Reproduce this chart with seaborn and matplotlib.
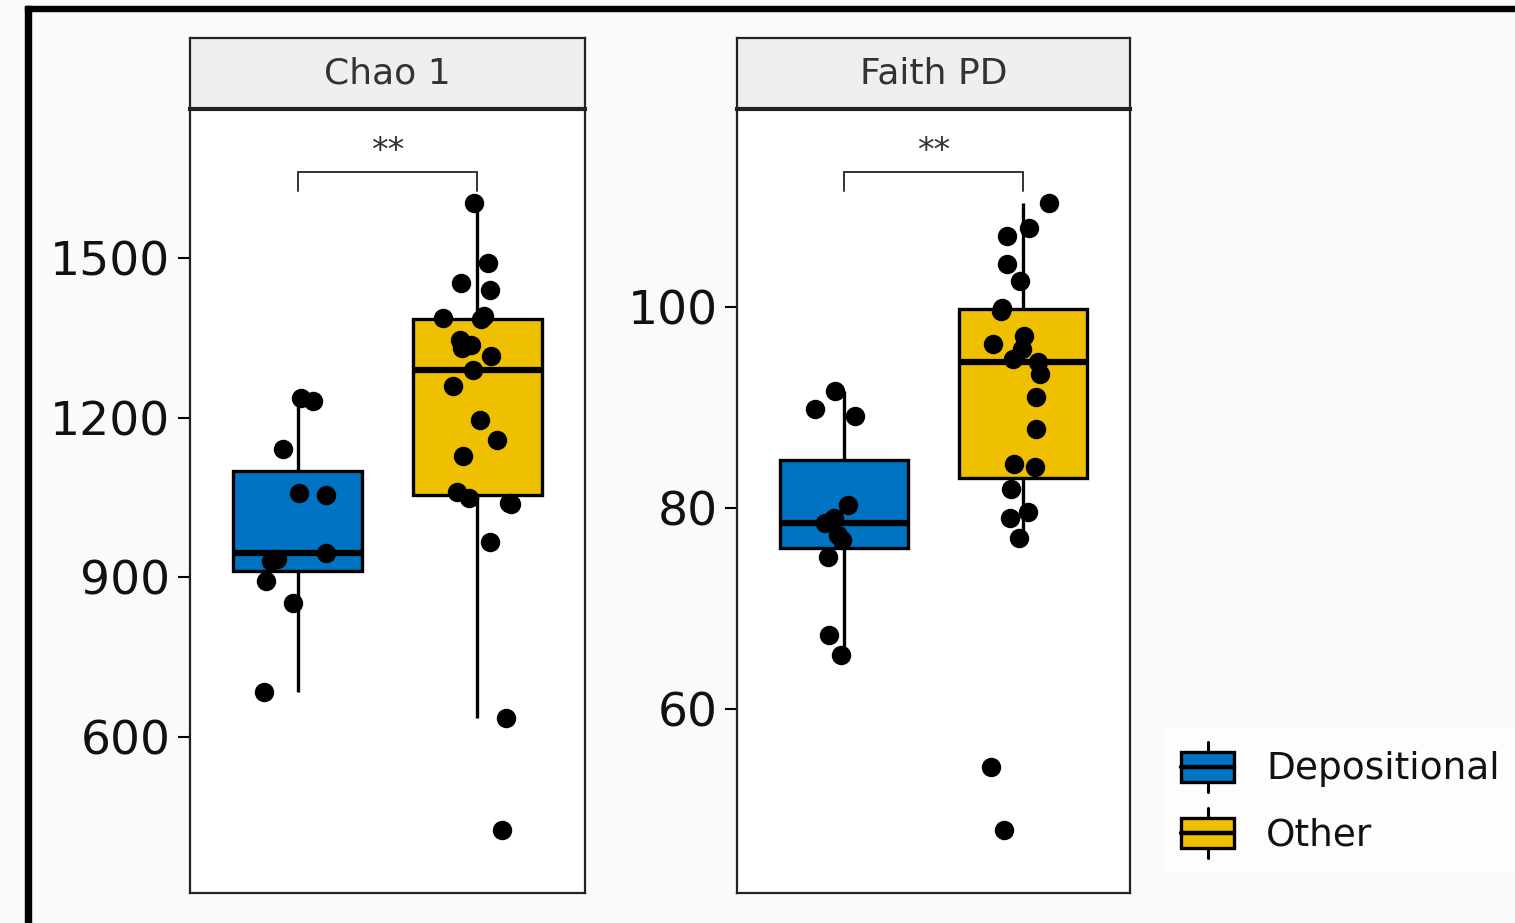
import numpy as np
import pandas as pd
import matplotlib
matplotlib.use("Agg")
import matplotlib.pyplot as plt
import seaborn as sns
from matplotlib.patches import Rectangle, Patch
from matplotlib.lines import Line2D
from matplotlib.legend_handler import HandlerBase

# values
groups = ["Depositional", "Other"]
colors = ["#0073C2", "#EFC000"]

chao_dep = [1237, 1231, 1141, 1058, 1054, 945, 931, 935, 893, 852, 685]
chao_oth = [1604, 1491, 1453, 1440, 1392, 1388, 1385, 1347, 1337, 1332, 1317,
            1290, 1260, 1196, 1158, 1128, 1061, 1050, 1039, 1037, 967, 636, 424]
faith_dep = [91.6, 89.8, 89.1, 80.3, 79.0, 78.5, 77.3, 76.8, 75.1, 67.3, 65.3]
faith_oth = [110.3, 107.8, 107.0, 104.2, 102.5, 99.9, 99.6, 97.1, 96.3, 95.8,
             94.8, 94.5, 93.3, 91.0, 87.8, 84.3, 84.0, 81.9, 79.6, 79.0, 77.0,
             54.2, 47.9]

chao_ticks = [600, 900, 1200, 1500]
faith_ticks = [60, 80, 100]
signif = "**"


def make_df(dep, oth):
    return pd.DataFrame({
        "group": ["Depositional"] * len(dep) + ["Other"] * len(oth),
        "value": list(dep) + list(oth),
    })


panels = [
    ("Chao 1", make_df(chao_dep, chao_oth), chao_ticks),
    ("Faith PD", make_df(faith_dep, faith_oth), faith_ticks),
]

sns.set_style("white")
plt.rcParams["font.family"] = ["DejaVu Sans"]

W, H = 1515, 923
fig = plt.figure(figsize=(W / 100, H / 100), dpi=100, facecolor="#f8fafc")

# pixel extents of the two panels
boxes = [(190, 585), (737, 1130)]
strip_top, panel_top, panel_bot = 38, 109, 893

np.random.seed(3)

for (title, df, ticks), (x0, x1) in zip(panels, boxes):
    ax = fig.add_axes([x0 / W, 1 - panel_bot / H, (x1 - x0) / W, (panel_bot - panel_top) / H])
    ax.set_facecolor("white")
    sns.boxplot(data=df, x="group", y="value", hue="group", order=groups,
                hue_order=groups, palette=colors, saturation=1, width=0.72,
                linewidth=2.4, linecolor="black", showfliers=False, showcaps=False,
                medianprops=dict(linewidth=4.5), legend=False, ax=ax)
    sns.stripplot(data=df, x="group", y="value", order=groups, color="black",
                  size=14, jitter=0.2, linewidth=0, ax=ax)

    vmin, vmax = df["value"].min(), df["value"].max()
    r = vmax - vmin
    top = vmax + 0.05 * r
    tip = vmax + 0.02 * r
    ax.plot([0, 0, 1, 1], [tip, top, top, tip], color="#333333", lw=1.4,
            solid_joinstyle="miter")
    ax.text(0.5, vmax + 0.082 * r, signif, ha="center", va="center",
            fontsize=24, color="#333333")

    ax.set_xlim(-0.6, 1.6)
    ax.set_ylim(vmin - 0.1 * r, vmax + 0.15 * r)
    ax.set_yticks(ticks)
    ax.set_xticks([])
    ax.set_xlabel("")
    ax.set_ylabel("")
    ax.tick_params(axis="y", labelsize=34, length=9, width=1.5, color="black",
                   labelcolor="#111111", left=True, pad=5)
    for sp in ax.spines.values():
        sp.set_visible(True)
        sp.set_color("#222222")
        sp.set_linewidth(1.6)

    sax = fig.add_axes([x0 / W, 1 - panel_top / H, (x1 - x0) / W, (panel_top - strip_top) / H])
    sax.set_facecolor("#efefef")
    sax.set_xticks([])
    sax.set_yticks([])
    for sp in sax.spines.values():
        sp.set_visible(True)
        sp.set_color("#222222")
        sp.set_linewidth(1.6)
    sax.spines["bottom"].set_linewidth(3)
    sax.text(0.5, 0.5, title, ha="center", va="center", fontsize=26,
             color="#333333", transform=sax.transAxes)


class BoxKey(HandlerBase):
    def create_artists(self, legend, orig, xdescent, ydescent, width, height,
                       fontsize, trans):
        x0, y0 = -xdescent, -ydescent
        bh = height * 0.66
        by = y0 + (height - bh) / 2
        xm = x0 + width / 2
        rect = Rectangle((x0, by), width, bh, facecolor=orig.get_facecolor(),
                         edgecolor="black", lw=2.4, transform=trans)
        med = Line2D([x0, x0 + width], [y0 + height / 2] * 2, color="black",
                     lw=3.2, transform=trans)
        w1 = Line2D([xm, xm], [y0 - height * 0.05, by], color="black", lw=2.2,
                    transform=trans)
        w2 = Line2D([xm, xm], [by + bh, y0 + height * 1.05], color="black",
                    lw=2.2, transform=trans)
        return [w1, w2, rect, med]


handles = [Patch(facecolor=c, label=g) for g, c in zip(groups, colors)]
leg = fig.legend(handles=handles, loc="center left",
                 bbox_to_anchor=(1164 / W, 1 - 800 / H), fontsize=27,
                 frameon=True, facecolor="white", edgecolor="none",
                 fancybox=False, handlelength=1.42, handleheight=1.5,
                 labelspacing=0.55, handletextpad=0.85, borderpad=0.45,
                 borderaxespad=0, handler_map={Patch: BoxKey()})
for t in leg.get_texts():
    t.set_color("#111111")

# black frame along top and left edge, as in the screenshot
fig.add_artist(Rectangle((25 / W, 1 - 11 / H), 1, 5 / H, color="black",
                         transform=fig.transFigure, zorder=10))
fig.add_artist(Rectangle((25 / W, 0), 6 / W, 1 - 6 / H, color="black",
                         transform=fig.transFigure, zorder=10))

fig.savefig("out.png", dpi=100, facecolor=fig.get_facecolor())
